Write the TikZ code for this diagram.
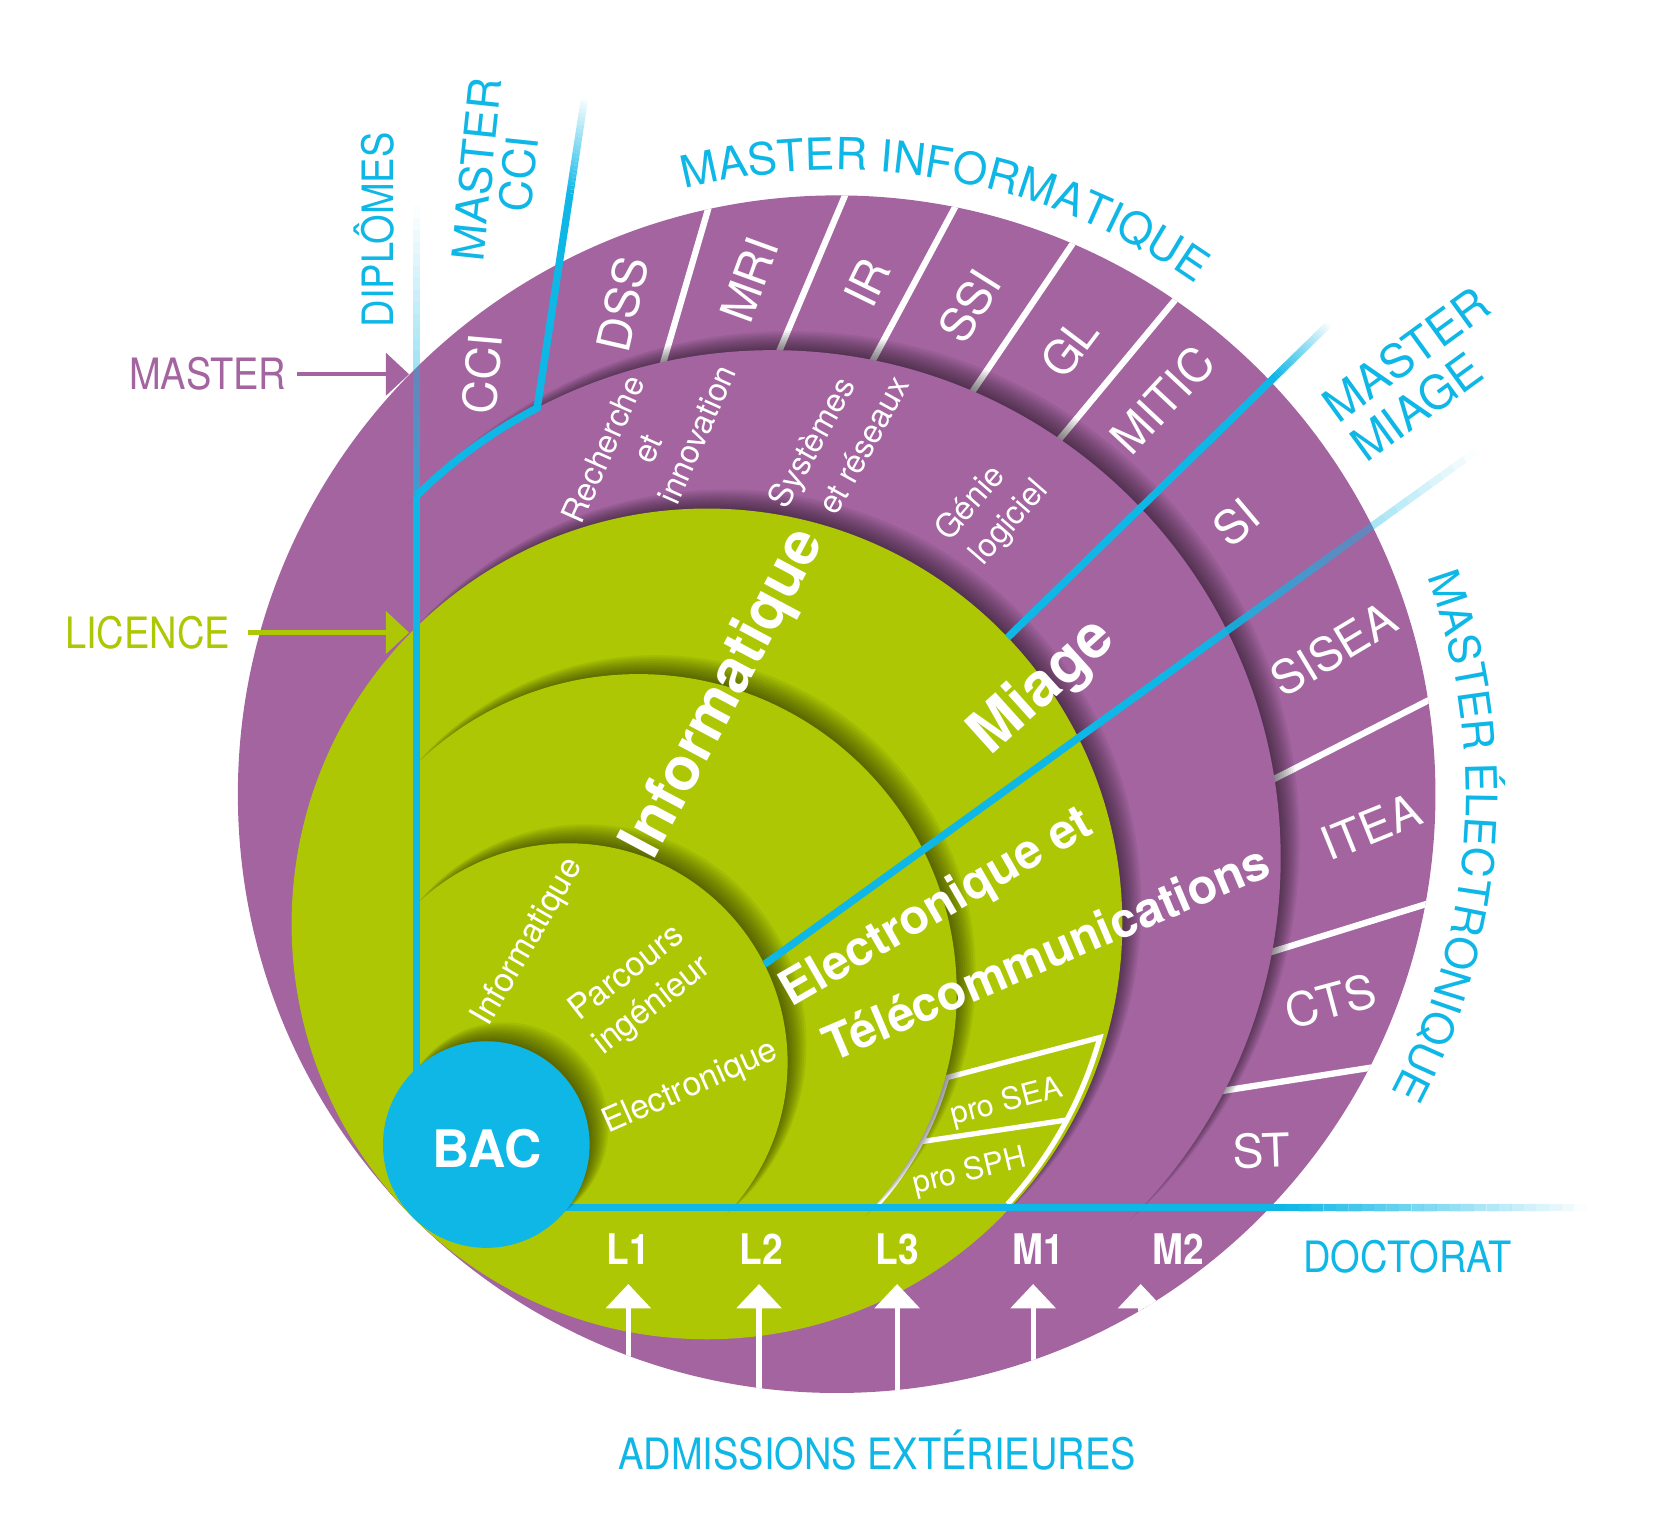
\documentclass[tikz,border=0pt]{standalone}
\usepackage{fontspec}
\setmainfont{TeX Gyre Heros}
\newfontfamily\narrowfont[FakeStretch=0.88]{TeX Gyre Heros}
\usetikzlibrary{calc,arrows.meta,decorations.text}

\definecolor{mauve}{RGB}{163,100,160}
\definecolor{lime}{RGB}{173,199,4}
\definecolor{sky}{RGB}{14,183,230}

% soft shadow thrown by a disc towards the upper right
\newcommand{\castshadow}[2]{%
  \foreach \k in {1,...,12}{%
    \fill[black, fill opacity=0.06] ($(#1)+(45:{2*\k})$) circle ({#2+0.5*\k-5});
  }}

% blue stroke that fades out between two points
\newcommand{\blueFade}[3][1]{%
  \foreach \i in {0,...,23}{%
    \pgfmathsetmacro{\fo}{#1*(1-(\i+0.5)/24)}%
    \pgfmathsetmacro{\fa}{\i/24}%
    \pgfmathsetmacro{\fb}{(\i+1)/24}%
    \draw[bluestroke, draw opacity=\fo] ($(#2)!\fa!(#3)$) -- ($(#2)!\fb!(#3)$);
  }}

\begin{document}
\begin{tikzpicture}[x=1pt, y=1pt,
    sepline/.style={white, line width=6},
    boxline/.style={white, line width=5},
    bluestroke/.style={sky, line width=7},
    ringtext/.style={text=white, inner sep=0, font=\fontsize{44}{44}\selectfont},
    bandtext/.style={text=white, inner sep=0, font=\fontsize{31}{31}\selectfont},
    greentext/.style={text=white, inner sep=0, align=center, font=\fontsize{32}{39}\selectfont},
    protext/.style={text=white, inner sep=0, font=\fontsize{29}{29}\selectfont},
    bigtext/.style={text=white, inner sep=0, font=\bfseries\fontsize{57}{57}\selectfont},
    midtext/.style={text=white, inner sep=0, font=\bfseries\fontsize{46}{46}\selectfont},
    steplabel/.style={text=white, inner sep=0, font=\narrowfont\bfseries\fontsize{40}{40}\selectfont},
    sidetitle/.style={text=sky, inner sep=0, align=center, font=\fontsize{42}{40}\selectfont},
    sidenote/.style={inner sep=0, font=\narrowfont\fontsize{41}{41}\selectfont},
    pointer/.style={line width=4, -{Triangle[length=22pt,width=40pt]}},
    uparrow/.style={white, line width=5, -{Triangle[length=23pt,width=42pt]}}
  ]
  \useasboundingbox (0,0) rectangle (1568,1456);

  %% ---- centres (all circles touch at T) ----
  \coordinate (T) at (392,301);
  \coordinate (cM2) at ($(T)+(45:568)$);
  \coordinate (cM1) at ($(T)+(45:482)$);
  \coordinate (cL3) at ($(T)+(45:394)$);
  \coordinate (cL2) at ($(T)+(45:302)$);
  \coordinate (cL1) at ($(T)+(45:208)$);
  \coordinate (cBac) at ($(T)+(45:98)$);

  %% ---- outer ring ----
  \fill[mauve] (cM2) circle (568);
  \begin{scope}
    \clip (cM2) circle (568);
    \foreach \a in {73.7,67.1,61.8,55.9,50.3,27,17.2,8.9}
      \draw[sepline] ($(T)+(\a:{2*470*cos(\a-45)})$) -- ($(T)+(\a:{2*580*cos(\a-45)})$);
  \end{scope}

  %% ---- discs ----
  \castshadow{cM1}{482}
  \fill[mauve] (cM1) circle (482);
  \castshadow{cL3}{394}
  \fill[lime] (cL3) circle (394);

  % pro box
  \draw[boxline] ($(T)+(1.3:{2*303*cos(1.3-45)})$) arc[start angle=-42.4, end angle=-15.6, radius=303]
    -- ($(T)+(14.7:{2*390*cos(14.7-45)})$) arc[start angle=-15.6, end angle=-42.4, radius=390];
  \draw[boxline] ($(T)+(8.5:{2*303*cos(8.5-45)})$) -- ($(T)+(8.5:{2*390*cos(8.5-45)})$);

  \castshadow{cL2}{302}
  \fill[lime] (cL2) circle (302);
  \castshadow{cL1}{208}
  \fill[lime] (cL1) circle (208);

  %% ---- blue lines ----
  \coordinate (vBase) at (395,370);
  \coordinate (fork) at (395,985.6);
  \coordinate (vTop) at (395,1261);
  \draw[bluestroke] (vBase) -- (fork);
  \blueFade[0.7]{fork}{vTop}

  \coordinate (cciMid) at ($(T)+(81.3:983)$);
  \coordinate (cciTop) at ($(T)+(81.3:1075)$);
  \draw[bluestroke] (fork) arc[start angle=134.5, end angle=117.6, radius=482] -- (cciMid);
  \blueFade{cciMid}{cciTop}

  \coordinate (hBase) at (461,310.5);
  \coordinate (hMid) at (1220,310.5);
  \coordinate (hEnd) at (1505,310.5);
  \draw[bluestroke] (hBase) -- (hMid);
  \blueFade{hMid}{hEnd}

  \coordinate (miaStart) at ($(T)+(44.3:{2*394*cos(0.7)})$);
  \coordinate (miaMid) at ($(T)+(44.3:1143)$);
  \coordinate (miaEnd) at ($(T)+(44.3:1215)$);
  \draw[bluestroke] (miaStart) -- (miaMid);
  \blueFade{miaMid}{miaEnd}

  \coordinate (eleStart) at ($(T)+(35.8:{2*208*cos(9.2)})$);
  \coordinate (eleMid) at ($(T)+(35.8:920)$);
  \coordinate (eleEnd) at ($(T)+(35.8:1243)$);
  \draw[bluestroke] (eleStart) -- (eleMid);
  \blueFade{eleMid}{eleEnd}

  %% ---- BAC ----
  \castshadow{cBac}{98}
  \fill[sky] (cBac) circle (98);
  \node[text=white, inner sep=0, font=\bfseries\fontsize{49}{49}\selectfont] (bac) at (462,366) {BAC};

  %% ---- ring labels ----
  \foreach \lab/\ang/\dist/\rot in {CCI/85.3/803/85, DSS/77.1/889/77, MRI/70.3/945/70,
      IR/64.1/986/64, SSI/58.6/1013/58, GL/53/1034/53, MITIC/47.5/1052/47,
      SI/40.2/1022/40, SISEA/31.7/1026/31, ITEA/22.2/981/22, CTS/13.3/894/15, ST/4.5/807/2}
    \node[ringtext, rotate=\rot] (ring\lab) at ($(T)+(\ang:\dist)$) {\lab};

  \node[bandtext, rotate=66] (recherche) at (572,1030) {Recherche};
  \node[bandtext, rotate=66] (rechEt) at (615,1030) {et};
  \node[bandtext, rotate=66] (innovation) at (661,1044) {innovation};
  \node[bandtext, rotate=61] (systemes) at (772,1035) {Systèmes};
  \node[bandtext, rotate=61] (reseaux) at (819,1034) {et réseaux};
  \node[bandtext, rotate=49] (genie) at (919,980) {Génie};
  \node[bandtext, rotate=49] (logiciel) at (958,960) {logiciel};

  %% ---- licence labels ----
  \node[bigtext, rotate=62] (info) at (688,798) {Informatique};
  \node[bigtext, rotate=42] (miage) at (990,804) {Miage};
  \node[midtext, rotate=30] (elec) at (889,594) {Electronique et};
  \node[midtext, rotate=23] (telecom) at (992,553) {Télécommunications};
  \node[greentext, rotate=60] (infoL1) at (501,562) {Informatique};
  \node[greentext, rotate=38] (parcours) at (607,517) {Parcours\\ingénieur};
  \node[greentext, rotate=24] (elecL1) at (655,424) {Electronique};
  \node[protext, rotate=14.6] (proSea) at (955,410) {pro SEA};
  \node[protext, rotate=13.5] (proSph) at (920,344) {pro SPH};

  %% ---- years and admissions ----
  \foreach \yr/\x in {L1/596, L2/722, L3/851, M1/985, M2/1118}
    \node[steplabel] (yr\yr) at (\x,271) {\yr};
  \begin{scope}
    \clip (cM2) circle (568);
    \foreach \x [count=\n] in {596,720,851,980,1082}{
      \coordinate (adm\n) at (\x,60);
      \coordinate (tip\n) at (\x,238);
      \draw[uparrow] (adm\n) -- (tip\n);
    }
  \end{scope}

  %% ---- titles ----
  \path[decorate, decoration={text along path, text align=center,
      text={|\color{sky}\fontsize{42}{42}\selectfont|MASTER INFORMATIQUE}}]
    ($(cM2)+(110:592)$) arc[start angle=110, end angle=49, radius=592];
  \path[decorate, decoration={text along path, text align=center,
      text={|\color{sky}\fontsize{41}{41}\selectfont|MASTER ÉLECTRONIQUE}}]
    ($(cM2)+(40:597)$) arc[start angle=40, end angle=-48, radius=597];

  \node[sidenote, text=sky, rotate=90] (diplomes) at (355,1238) {DIPLÔMES};
  \node[sidetitle, rotate=84] (mcci) at (472,1293) {MASTER\\CCI};
  \node[sidetitle, rotate=36, align=left, font=\fontsize{44}{46}\selectfont] (mmiage) at (1347,1101) {MASTER\\MIAGE};
  \node[sidenote, text=sky] (doctorat) at (1335,264) {DOCTORAT};
  \node[sidenote, text=sky] (admissions) at (832,80) {ADMISSIONS EXTÉRIEURES};

  %% ---- level pointers ----
  \node[sidenote, text=mauve] (master) at (197,1101) {MASTER};
  \coordinate (masterTip) at (388,1101);
  \draw[pointer, mauve] ([xshift=10]master.east) -- (masterTip);
  \node[sidenote, text=lime] (licence) at (140,856) {LICENCE};
  \coordinate (licenceTip) at (388,856);
  \draw[pointer, lime] ([xshift=17]licence.east) -- (licenceTip);
\end{tikzpicture}
\end{document}
